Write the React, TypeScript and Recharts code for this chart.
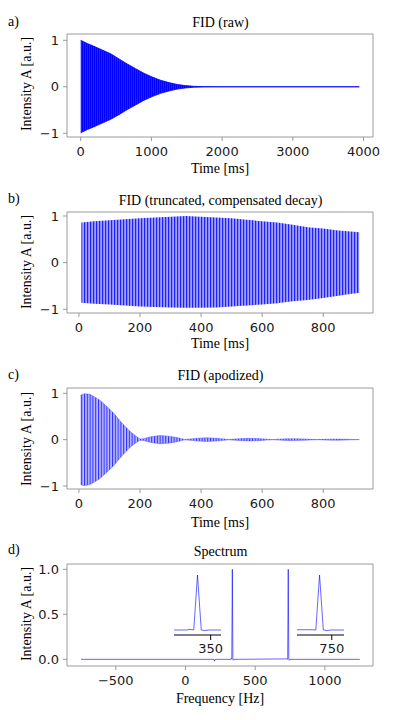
import { ComposedChart, Area, Line, XAxis, YAxis, ReferenceArea } from "recharts";
import type { ReactNode } from "react";

// a) FID (raw) - envelope of the oscillation
const rawTime = [0, 94, 188, 306, 424, 541, 659, 777, 895, 1012, 1130, 1248, 1365, 1483, 1600, 1750, 1900, 3940];
const rawUpper = [1.0, 0.93, 0.87, 0.79, 0.71, 0.6, 0.49, 0.39, 0.29, 0.21, 0.14, 0.09, 0.05, 0.025, 0.01, 0.003, 0, 0];
const rawLower = [-0.99, -0.92, -0.86, -0.78, -0.7, -0.6, -0.49, -0.39, -0.29, -0.21, -0.14, -0.09, -0.05, -0.025, -0.01, -0.003, 0, 0];

// b) FID (truncated, compensated decay)
const truncTime = [8, 50, 100, 150, 200, 250, 300, 350, 400, 450, 500, 550, 600, 650, 700, 750, 800, 850, 900, 918];
const truncUpper = [0.86, 0.89, 0.91, 0.93, 0.95, 0.97, 0.985, 1.0, 0.985, 0.97, 0.95, 0.92, 0.89, 0.86, 0.81, 0.76, 0.73, 0.69, 0.66, 0.65];
const truncLower = [-0.86, -0.88, -0.9, -0.92, -0.94, -0.95, -0.96, -0.97, -0.97, -0.96, -0.94, -0.92, -0.9, -0.87, -0.83, -0.8, -0.76, -0.71, -0.66, -0.65];

// c) FID (apodized)
const apoTime = [5, 12, 20, 36, 52, 69, 85, 102, 118, 134, 151, 167, 184, 200, 212, 235, 265, 300, 325, 345, 365, 390, 418, 450, 475, 490, 510, 535, 560, 590, 615, 635, 655, 680, 705, 735, 760, 780, 800, 825, 850, 875, 900, 918];
const apoUpper = [0.95, 0.98, 0.99, 0.98, 0.92, 0.85, 0.75, 0.65, 0.54, 0.41, 0.29, 0.18, 0.09, 0.015, 0.02, 0.06, 0.09, 0.07, 0.04, 0.005, 0.015, 0.03, 0.04, 0.03, 0.015, 0.004, 0.012, 0.022, 0.028, 0.022, 0.01, 0.003, 0.01, 0.018, 0.02, 0.015, 0.006, 0.002, 0.006, 0.011, 0.012, 0.008, 0.002, 0.001];
const apoLower = [-0.96, -0.99, -0.99, -0.97, -0.91, -0.84, -0.74, -0.64, -0.53, -0.4, -0.28, -0.17, -0.08, -0.015, -0.02, -0.06, -0.09, -0.07, -0.04, -0.005, -0.015, -0.03, -0.04, -0.03, -0.015, -0.004, -0.012, -0.022, -0.028, -0.022, -0.01, -0.003, -0.01, -0.018, -0.02, -0.015, -0.006, -0.002, -0.006, -0.011, -0.012, -0.008, -0.002, -0.001];

// d) Spectrum
const specFreq = [-750, 200, 204, 208, 212, 216, 324, 328, 332, 336, 340, 344, 348, 729, 733, 737, 741, 745, 749, 1250];
const specAmp = [0, 0, 0, -0.02, 0, 0, 0, 0.01, 0, 1.0, 0, -0.01, 0, 0.005, 0, 1.0, 0, -0.01, 0, 0];

const timeTicksRaw = [0, 1000, 2000, 3000, 4000];
const timeTicks = [0, 200, 400, 600, 800];
const freqTicks = [-500, 0, 500, 1000];
const ampTicks = [-1, 0, 1];
const specTicks = [0, 0.5, 1];

const rangeRows = (t: number[], lo: number[], hi: number[]) =>
  t.map((x, i) => ({ x, range: [lo[i], hi[i]] }));

const rawData = rangeRows(rawTime, rawLower, rawUpper);
const truncData = rangeRows(truncTime, truncLower, truncUpper);
const apoData = rangeRows(apoTime, apoLower, apoUpper);
const specData = specFreq.map((x, i) => ({ x, amp: specAmp[i] }));

const W = 397;
const PLOT_LEFT = 67;
const PLOT_RIGHT = 373;
const FRAME = "#9a9a9a";
const TICK_FONT = { fontFamily: "DejaVu Sans", fontSize: 13, fill: "#1a1a1a" };
const SERIF = "'Liberation Serif', 'Times New Roman', serif";

const minus = (v: number) => String(v).replace("-", "\u2212");

type PanelProps = {
  frameTop: number;
  plotH: number;
  data: object[];
  xDomain: [number, number];
  yDomain: [number, number];
  xTicks: number[];
  yTicks: number[];
  yFmt?: (v: number) => string;
  children: ReactNode;
};

function Panel({ frameTop, plotH, data, xDomain, yDomain, xTicks, yTicks, yFmt = minus, children }: PanelProps) {
  return (
    <div style={{ position: "absolute", left: 0, top: frameTop - 2 }}>
      <ComposedChart
        width={W}
        height={plotH + 32}
        data={data}
        margin={{ top: 2, right: W - PLOT_RIGHT, bottom: 0, left: 0 }}
      >
        <XAxis
          dataKey="x"
          type="number"
          domain={xDomain}
          allowDataOverflow
          ticks={xTicks}
          interval={0}
          height={30}
          axisLine={false}
          tickSize={4}
          tickMargin={6}
          tickLine={{ stroke: FRAME }}
          tick={TICK_FONT}
          tickFormatter={minus}
        />
        <YAxis
          type="number"
          domain={yDomain}
          allowDataOverflow
          ticks={yTicks}
          interval={0}
          width={PLOT_LEFT}
          axisLine={false}
          tickSize={4}
          tickMargin={4}
          tickLine={{ stroke: FRAME }}
          tick={TICK_FONT}
          tickFormatter={yFmt}
        />
        {children}
        <ReferenceArea
          x1={xDomain[0]}
          x2={xDomain[1]}
          y1={yDomain[0]}
          y2={yDomain[1]}
          fill="none"
          stroke={FRAME}
          strokeWidth={1}
          ifOverflow="visible"
        />
      </ComposedChart>
    </div>
  );
}

function Inset({ left, xDomain, tick }: { left: number; xDomain: [number, number]; tick: number }) {
  return (
    <div style={{ position: "absolute", left, top: 570 }}>
      <ComposedChart width={47 + 14} height={90} data={specData} margin={{ top: 0, right: 14, bottom: 0, left: 0 }}>
        <XAxis
          dataKey="x"
          type="number"
          domain={xDomain}
          allowDataOverflow
          ticks={[tick]}
          height={25}
          axisLine={{ stroke: "#000" }}
          tickLine={{ stroke: "#000" }}
          tickSize={5}
          tickMargin={4}
          tick={TICK_FONT}
        />
        <YAxis type="number" domain={[-0.091, 1.091]} allowDataOverflow hide />
        <Line
          dataKey="amp"
          type="linear"
          dot={false}
          stroke="#0000ff"
          strokeOpacity={0.6}
          strokeWidth={1}
          isAnimationActive={false}
        />
      </ComposedChart>
    </div>
  );
}

function Txt({ x, y, children, size = 14, left = false, rotate = false }: { x: number; y: number; children: ReactNode; size?: number; left?: boolean; rotate?: boolean }) {
  const tr = left ? "translate(0,-50%)" : rotate ? "translate(-50%,-50%) rotate(-90deg)" : "translate(-50%,-50%)";
  return (
    <div
      style={{
        position: "absolute",
        left: x,
        top: y,
        transform: tr,
        fontFamily: SERIF,
        fontSize: size,
        lineHeight: `${size}px`,
        whiteSpace: "nowrap",
        color: "#000",
      }}
    >
      {children}
    </div>
  );
}

function Stripes({ id, w, line, bg, fg }: { id: string; w: number; line: number; bg: string; fg: string }) {
  return (
    <defs>
      <pattern id={id} width={w} height={10} patternUnits="userSpaceOnUse">
        <rect x={0} y={0} width={w} height={10} fill={bg} />
        <rect x={0} y={0} width={line} height={10} fill={fg} />
      </pattern>
    </defs>
  );
}

export default function App() {
  return (
    <div style={{ position: "absolute", left: 0, top: 0, width: W, height: 720, background: "#fff" }}>
      {/* a) */}
      <Panel frameTop={34} plotH={103} data={rawData} xDomain={[-194, 4134]} yDomain={[-1.08, 1.135]} xTicks={timeTicksRaw} yTicks={ampTicks}>
        <Stripes id="stripesA" w={2} line={1.3} bg="#3030ff" fg="#0000ff" />
        <Area dataKey="range" type="linear" fill="url(#stripesA)" fillOpacity={1} stroke="#0000ff" strokeWidth={0.8} isAnimationActive={false} dot={false} activeDot={false} />
      </Panel>

      {/* b) */}
      <Panel frameTop={212} plotH={101} data={truncData} xDomain={[-39, 963]} yDomain={[-1.08, 1.086]} xTicks={timeTicks} yTicks={ampTicks}>
        <Stripes id="stripesB" w={3} line={1.2} bg="#a0a0ff" fg="#2020ff" />
        <Area dataKey="range" type="linear" fill="url(#stripesB)" fillOpacity={1} stroke="none" isAnimationActive={false} dot={false} activeDot={false} />
      </Panel>

      {/* c) */}
      <Panel frameTop={388} plotH={101} data={apoData} xDomain={[-39, 963]} yDomain={[-1.065, 1.114]} xTicks={timeTicks} yTicks={ampTicks}>
        <Stripes id="stripesC" w={2.8} line={1.1} bg="#bcbcff" fg="#3030ff" />
        <Area dataKey="range" type="linear" fill="url(#stripesC)" fillOpacity={1} stroke="#4040ff" strokeOpacity={0.6} strokeWidth={0.7} isAnimationActive={false} dot={false} activeDot={false} />
      </Panel>

      {/* d) */}
      <Panel frameTop={564} plotH={102} data={specData} xDomain={[-850, 1345]} yDomain={[-0.074, 1.059]} xTicks={freqTicks} yTicks={specTicks} yFmt={(v) => v.toFixed(1)}>
        <Line dataKey="amp" type="linear" dot={false} stroke="#0000ff" strokeOpacity={0.6} strokeWidth={1} isAnimationActive={false} />
      </Panel>
      <Inset left={174} xDomain={[311, 361]} tick={350} />
      <Inset left={297} xDomain={[713, 763]} tick={750} />

      {/* titles and labels */}
      <Txt x={8} y={22} left>a)</Txt>
      <Txt x={8} y={198.5} left>b)</Txt>
      <Txt x={8} y={375} left>c)</Txt>
      <Txt x={8} y={550} left>d)</Txt>

      <Txt x={220.5} y={23}>FID (raw)</Txt>
      <Txt x={220.5} y={200.7}>FID (truncated, compensated decay)</Txt>
      <Txt x={220.5} y={375.7}>FID (apodized)</Txt>
      <Txt x={220.5} y={551.7}>Spectrum</Txt>

      <Txt x={220} y={168.5}>Time [ms]</Txt>
      <Txt x={220} y={343.5}>Time [ms]</Txt>
      <Txt x={220} y={523}>Time [ms]</Txt>
      <Txt x={220} y={698.5}>Frequency [Hz]</Txt>

      <Txt x={26.7} y={84} rotate>Intensity A [a.u.]</Txt>
      <Txt x={26.7} y={261.7} rotate>Intensity A [a.u.]</Txt>
      <Txt x={26.7} y={438.8} rotate>Intensity A [a.u.]</Txt>
      <Txt x={26.7} y={614} rotate>Intensity A [a.u.]</Txt>
    </div>
  );
}
